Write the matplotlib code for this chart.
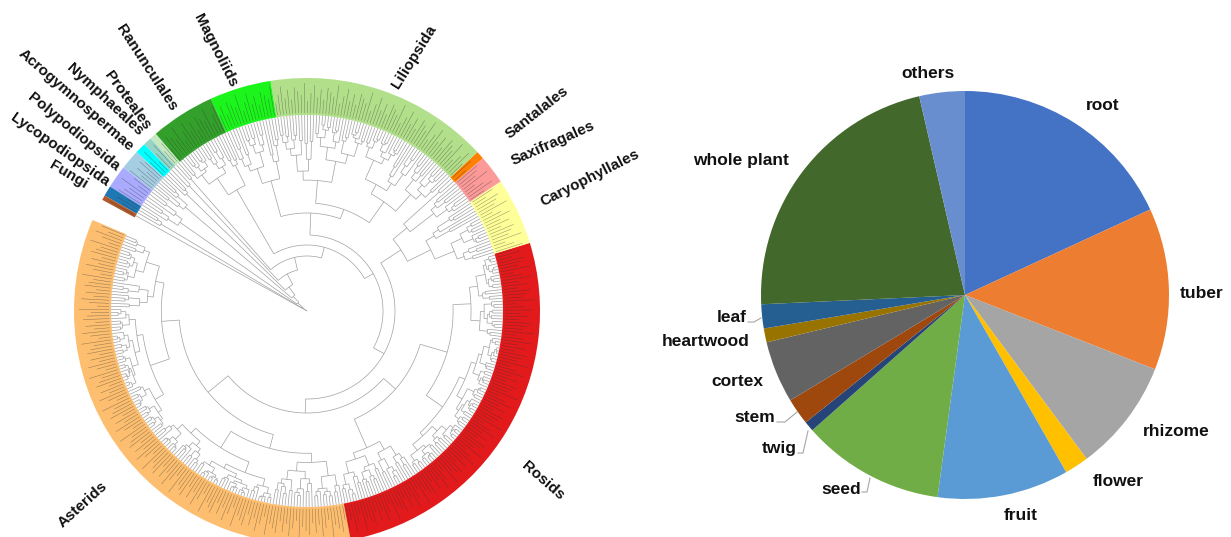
import numpy as np
import matplotlib
matplotlib.use("Agg")
import matplotlib.pyplot as plt
from matplotlib.patches import Wedge
from matplotlib.collections import LineCollection

plt.rcParams['font.family'] = ['Liberation Sans', 'DejaVu Sans']

W, H = 1231, 537

# ---- tree clades, in ring order (angles in degrees, counter-clockwise) ----
clade_labels = ['Asterids', 'Rosids', 'Caryophyllales', 'Saxifragales', 'Santalales',
                'Liliopsida', 'Magnoliids', 'Ranunculales', 'Proteales', 'Nymphaeales',
                '', 'Acrogymnospermae', 'Polypodiopsida', 'Lycopodiopsida', 'Fungi']
clade_colors = ['#FDBF6F', '#E31A1C', '#FFFF99', '#FB9A99', '#FF7F00',
                '#B2DF8A', '#1CF51C', '#33A02C', '#C7E9C0', '#97D4C6',
                '#00FFFF', '#A6CEE3', '#AAAAFF', '#1F78B4', '#B15928']
clade_start = [157, 280.8, 377, 393.8, 401, 403, 459, 474.4, 490.5, 492.2, 494.3, 497, 502, 507.7, 510.3]
clade_end = [280.8, 377, 393.8, 401, 403, 459, 474.4, 490.5, 492.2, 494.3, 497, 502, 507.7, 510.3, 511.5]
clade_tips = [140, 112, 19, 8, 2, 64, 17, 18, 2, 2, 3, 6, 6, 3, 1]
clade_crown = [128, 118, 138, 160, 178, 108, 135, 140, 176, 172, 168, 160, 155, 170, 0]

# backbone: (node radius, [children]); ints are clade indices
backbone = (0, [(5, [(12, [(20, [(30, [(42, [(55, [(66, [(76, [
    (88, [(102, [0, 1]), (112, [2, (130, [3, 4])])]),
    (98, [5, 6])]), 7]), 8]), 9]), 10]), 11]), 12]), 13]), 14])

# ---- pie data ----
pie_labels = ['root', 'tuber', 'rhizome', 'flower', 'fruit', 'seed', 'twig', 'stem',
              'cortex', 'heartwood', 'leaf', 'whole plant', 'others']
pie_values = [18.1, 12.8, 8.9, 1.9, 10.4, 11.3, 0.8, 2.1, 4.9, 1.1, 1.9, 22.1, 3.6]
pie_colors = ['#4472C4', '#ED7D31', '#A5A5A5', '#FFC000', '#5B9BD5', '#70AD47', '#264478',
              '#9E480E', '#636363', '#997300', '#255E91', '#43682B', '#698ED0']

# ---- layout ----
CX, CY = 307, H - 311          # tree centre
R_IN, R_OUT = 196, 233
PX, PY, PR = 965, 295, 204     # pie centre / radius in pixels (y down)

SPLIT = [0.5, 0.36, 0.62, 0.3, 0.55, 0.7, 0.44, 0.24, 0.58, 0.47, 0.66, 0.4]
STEP = [0.26, 0.17, 0.33, 0.21, 0.4, 0.14, 0.29, 0.36, 0.2]
LENS = [24, 16, 28, 20, 12, 30, 18, 22, 26, 14]
counter = [0]


def subtree(angles, r):
    if len(angles) == 1:
        return {'a': angles[0], 'r': R_IN, 'ch': []}
    i = counter[0]
    counter[0] += 1
    n = len(angles)
    k = min(max(int(round(n * SPLIT[i % len(SPLIT)])), 1), n - 1)
    kids = []
    for j, part in enumerate((angles[:k], angles[k:])):
        s = STEP[(i + j * 3) % len(STEP)]
        kids.append(subtree(part, r + (R_IN - r) * s))
    return {'a': (kids[0]['a'] + kids[-1]['a']) / 2, 'r': r, 'ch': kids}


leaf_angles = []


def build(spec):
    if isinstance(spec, int):
        n = clade_tips[spec]
        step = (clade_end[spec] - clade_start[spec]) / n
        angs = [clade_start[spec] + (i + 0.5) * step for i in range(n)]
        leaf_angles.extend(angs)
        return subtree(angs, clade_crown[spec])
    r, kids = spec
    nodes = [build(k) for k in kids]
    return {'a': (nodes[0]['a'] + nodes[-1]['a']) / 2, 'r': r, 'ch': nodes}


def pol(r, a):
    t = np.radians(a)
    return CX + r * np.cos(t), CY + r * np.sin(t)


segs = []


def collect(node, pr):
    segs.append([pol(pr, node['a']), pol(node['r'], node['a'])])
    if node['ch']:
        a1 = min(c['a'] for c in node['ch'])
        a2 = max(c['a'] for c in node['ch'])
        t = np.linspace(a1, a2, int(abs(a2 - a1) * 2) + 2)
        segs.append(list(zip(*pol(node['r'], t))))
        for c in node['ch']:
            collect(c, node['r'])


root = build(backbone)
collect(root, 0)

fig = plt.figure(figsize=(W / 100, H / 100), dpi=100)
ax = fig.add_axes([0, 0, 1, 1])
ax.set_xlim(0, W)
ax.set_ylim(0, H)
ax.axis('off')

# coloured ring
for t1, t2, col in zip(clade_start, clade_end, clade_colors):
    ax.add_patch(Wedge((CX, CY), R_OUT, t1, t2, width=R_OUT - R_IN,
                       facecolor=col, edgecolor='none', zorder=1))

ax.add_collection(LineCollection(segs, colors='#a0a0a0', linewidths=0.5, zorder=2))

# tiny tip labels (unreadable species names) as dark dashes
dashes = []
for i, a in enumerate(leaf_angles):
    L = LENS[i % len(LENS)]
    dashes.append([pol(R_IN + 2, a), pol(R_IN + 2 + L, a)])
ax.add_collection(LineCollection(dashes, colors='#333333', linewidths=0.35, alpha=0.55, zorder=3))

# clade labels (pixel position, y down, rotation)
label_pos = {
    'Fungi': (68, 175, -31), 'Lycopodiopsida': (60, 150, -35),
    'Polypodiopsida': (74, 132, -39.5), 'Acrogymnospermae': (76, 100, -41),
    'Nymphaeales': (105, 100, -43), 'Proteales': (127, 100, -54),
    'Ranunculales': (147, 68, -57), 'Magnoliids': (215, 51, -63),
    'Liliopsida': (414, 57, 58), 'Santalales': (537, 113, 38),
    'Saxifragales': (553, 143, 24), 'Caryophyllales': (590, 178, 27),
    'Rosids': (543, 481, -41), 'Asterids': (83, 505, 42),
}
for name in clade_labels:
    if name:
        x, y, rot = label_pos[name]
        ax.text(x, H - y, name, rotation=rot, ha='center', va='center',
                fontsize=11, fontweight='bold', color='#111111',
                rotation_mode='anchor')

# ---- pie ----
pax = fig.add_axes([(PX - PR) / W, (H - PY - PR) / H, 2 * PR / W, 2 * PR / H])
pax.pie(pie_values, colors=pie_colors, startangle=90, counterclock=False,
        wedgeprops=dict(linewidth=0))
pax.set_xlim(-1, 1)
pax.set_ylim(-1, 1)

pie_text_pos = [(1103, 105), (1202, 293), (1176, 432), (1118, 481), (1021, 516),
                (841, 489), (779, 449), (755, 418), (737, 381), (706, 342),
                (732, 317), (741, 160), (928, 73)]
for lab, (x, y) in zip(pie_labels, pie_text_pos):
    ax.text(x, H - y, lab, ha='center', va='center', fontsize=12.5,
            fontweight='bold', color='#111111', zorder=5)

leaders = [[(748, 322), (754, 322), (761, 318)],
           [(777, 422), (785, 422), (797, 412)],
           [(798, 453), (803, 453), (808, 431)],
           [(862, 492), (867, 492), (870, 478)]]
for pts in leaders:
    xs = [p[0] for p in pts]
    ys = [H - p[1] for p in pts]
    ax.plot(xs, ys, color='#A6A6A6', lw=0.8, zorder=4)

fig.savefig('out.png', dpi=100)
